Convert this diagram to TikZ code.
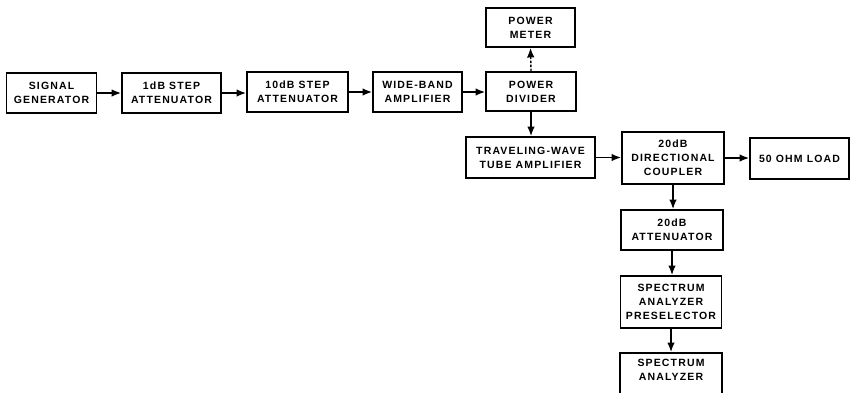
\documentclass[tikz,border=0pt]{standalone}
\usepackage{fontspec}
\setmainfont{Liberation Sans}[LetterSpace=11]
\usetikzlibrary{arrows.meta}
\tikzset{
  blk/.style={draw, line width=1.9pt, align=center, inner sep=0pt,
    font=\bfseries\fontsize{10.5}{14}\selectfont},
  conn/.style={line width=1.4pt, -{Latex[length=9.5pt,width=7.5pt]}},
  dconn/.style={conn, dash pattern=on 2.5pt off 1.5pt}
}
\begin{document}
\begin{tikzpicture}[x=1pt,y=-1pt]
\clip (0,0) rectangle (851,392);
\node[blk, minimum width=90pt, minimum height=40pt] (sg) at (51.5,93) {SIGNAL\\GENERATOR};
\node[blk, minimum width=99pt, minimum height=40pt] (a1) at (171.5,93) {1dB STEP\\ATTENUATOR};
\node[blk, minimum width=101pt, minimum height=40pt] (a10) at (297.5,92) {10dB STEP\\ATTENUATOR};
\node[blk, minimum width=89pt, minimum height=40pt] (wb) at (417.5,92) {WIDE-BAND\\AMPLIFIER};
\node[blk, minimum width=90pt, minimum height=39pt] (pd) at (531,91.5) {POWER\\DIVIDER};
\node[blk, minimum width=89pt, minimum height=39pt] (pm) at (530.5,27.5) {POWER\\METER};
\node[blk, minimum width=129pt, minimum height=41pt] (twt) at (530.5,157.5) {TRAVELING-WAVE\\TUBE AMPLIFIER};
\node[blk, minimum width=102pt, minimum height=52pt] (dc) at (673,158) {20dB\\DIRECTIONAL\\COUPLER};
\node[blk, minimum width=99pt, minimum height=41pt] (load) at (799.5,158.5) {50 OHM LOAD};
\node[blk, minimum width=102pt, minimum height=40pt] (at20) at (672,230) {20dB\\ATTENUATOR};
\node[blk, minimum width=101pt, minimum height=52pt] (pre) at (671,302) {SPECTRUM\\ANALYZER\\PRESELECTOR};
\node[blk, minimum width=102pt, minimum height=47pt, text depth=0pt] (sa) at (671,376.5) {SPECTRUM\\ANALYZER\\\strut};

\draw[conn] (sg.east) -- (sg.east -| a1.west);
\draw[conn] (a1.east) -- (a1.east -| a10.west);
\draw[conn] (a10.east) -- (a10.east -| wb.west);
\draw[conn] (wb.east) -- (wb.east -| pd.west);
\draw[dconn] (pd.north) -- (pm.south);
\draw[conn] (pd.south) -- (twt.north -| pd.south);
\draw[conn] (twt.east) -- (twt.east -| dc.west);
\draw[conn] (dc.east) -- (dc.east -| load.west);
\draw[conn] (dc.south) -- (dc.south |- at20.north);
\draw[conn] (at20.south) -- (at20.south |- pre.north);
\draw[conn] (pre.south) -- (pre.south |- sa.north);
\end{tikzpicture}
\end{document}
